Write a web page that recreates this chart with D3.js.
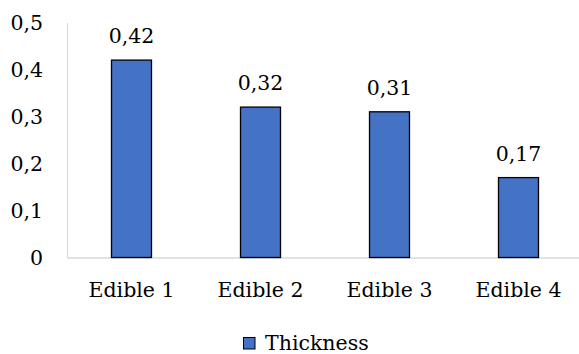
<!DOCTYPE html>
<html>
<head>
<meta charset="utf-8">
<script src="https://cdn.jsdelivr.net/npm/d3@7"></script>
<style>
  html, body { margin: 0; padding: 0; background: #fff; }
  svg text { font-family: "DejaVu Serif", "Liberation Serif", serif; fill: #000; }
</style>
</head>
<body>
<svg id="chart" width="579" height="354"></svg>
<script>
// Film thickness per edible sample
const categories = ["Edible 1", "Edible 2", "Edible 3", "Edible 4"];
const thickness = [0.42, 0.32, 0.31, 0.17];
const yTicks = [0, 0.1, 0.2, 0.3, 0.4, 0.5];
const seriesName = "Thickness";

const barColor = "#4472C4";
const fmt = v => d3.format(".2~f")(v).replace(".", ",");

const svg = d3.select("#chart");
const fontSize = 20.5;

const x = d3.scaleBand()
  .domain(categories)
  .range([67, 583])
  .paddingInner(0.69)
  .paddingOuter(0.345);

const y = d3.scaleLinear()
  .domain([0, 0.5])
  .range([257.5, 22.5]);

// Value axis: line plus tick labels only
const yAxis = svg.append("g")
  .attr("transform", "translate(67,0)")
  .call(d3.axisLeft(y).tickValues(yTicks).tickSize(0).tickPadding(24)
    .tickFormat(d => d === 0 ? "0" : fmt(d)));
yAxis.select(".domain").attr("stroke", "#d9d9d9").attr("stroke-width", 1.2);
yAxis.selectAll("text")
  .attr("font-size", fontSize)
  .attr("font-family", "DejaVu Serif, Liberation Serif, serif");

// Category axis
const xAxis = svg.append("g")
  .attr("transform", `translate(0,${y(0)})`)
  .call(d3.axisBottom(x).tickSize(0).tickPadding(24.5));
xAxis.select(".domain").attr("stroke", "#d9d9d9").attr("stroke-width", 1.5);
xAxis.selectAll("text")
  .attr("font-size", fontSize)
  .attr("font-family", "DejaVu Serif, Liberation Serif, serif");

// Bars
svg.append("g").selectAll("rect")
  .data(thickness)
  .join("rect")
  .attr("x", (d, i) => x(categories[i]))
  .attr("y", d => y(d))
  .attr("width", x.bandwidth())
  .attr("height", d => y(0) - y(d))
  .attr("fill", barColor)
  .attr("stroke", "#000")
  .attr("stroke-width", 1.3);

// Value labels above bars
svg.append("g").selectAll("text")
  .data(thickness)
  .join("text")
  .attr("x", (d, i) => x(categories[i]) + x.bandwidth() / 2)
  .attr("y", d => y(d) - 17)
  .attr("text-anchor", "middle")
  .attr("font-size", fontSize)
  .text(d => fmt(d));

// Legend
const legend = svg.append("g");
legend.append("rect")
  .attr("x", 243.5).attr("y", 337.5)
  .attr("width", 11.5).attr("height", 11.5)
  .attr("fill", barColor)
  .attr("stroke", "#000")
  .attr("stroke-width", 1);
legend.append("text")
  .attr("x", 265)
  .attr("y", 349.5)
  .attr("font-size", fontSize)
  .text(seriesName);
</script>
</body>
</html>
